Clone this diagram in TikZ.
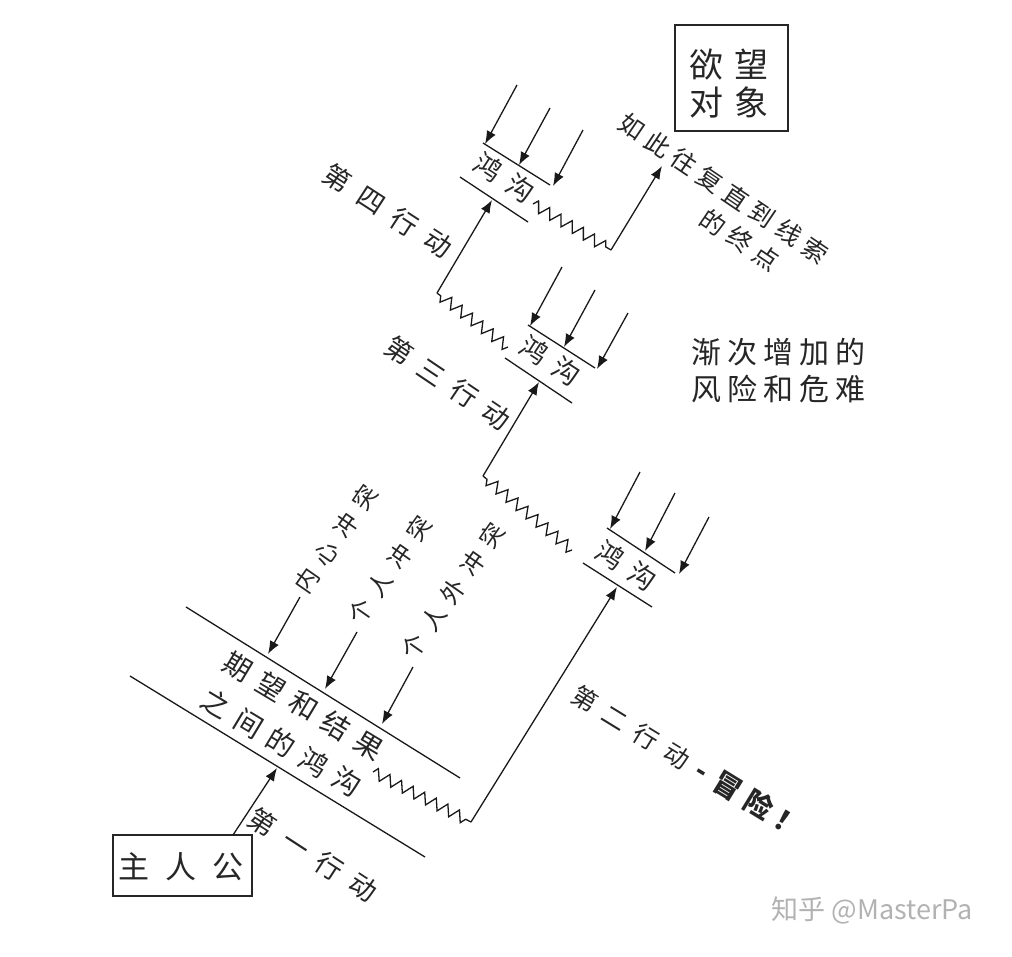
\documentclass[tikz,border=0pt]{standalone}
\usepackage{fontspec}
\setmainfont{Noto Sans CJK SC}
\usetikzlibrary{arrows.meta,decorations.pathmorphing}
\newlength\cgap
\newcommand\G{\hspace{\cgap}}
\tikzset{
  ln/.style={line width=1.3pt,draw=black!90},
  arr/.style={ln,-{Latex[length=13pt,width=10pt]}},
  zz/.style={ln,decorate,decoration={zigzag,segment length=13pt,amplitude=5.5pt}},
  lbl/.style={inner sep=0pt,text=black!85},
  box/.style={draw=black!85,line width=1.2pt,inner sep=0pt},
  fs/.style 2 args={font=\fontsize{#1}{#1}\selectfont\setlength\cgap{#2}},
}
\begin{document}
\begin{tikzpicture}[x=1pt,y=-1pt]
\useasboundingbox (0,0) rectangle (1012,956);

% boxes
\node[box,minimum width=139pt,minimum height=61pt] (hero) at (182.5,865.5) {};
\node[lbl,fs={31}{16pt}] (herotxt) at (181,867) {主\G{}人\G{}公};
\node[box,minimum width=113pt,minimum height=106pt] (goal) at (731.5,78) {};
\node[lbl,align=center,font=\fontsize{34}{38}\selectfont\setlength\cgap{11pt}] (goaltxt) at (729,84) {欲\G{}望\\对\G{}象};

% free texts
\node[lbl,align=center,font=\fontsize{30}{37}\selectfont\setlength\cgap{6pt}] (risk) at (778,371) {渐\G{}次\G{}增\G{}加\G{}的\\风\G{}险\G{}和\G{}危\G{}难};
\node[lbl,rotate=-34,fs={25}{6.5pt}] (loop1) at (723.5,188.5) {如\G{}此\G{}往\G{}复\G{}直\G{}到\G{}线\G{}索};
\node[lbl,rotate=-34,fs={25}{7pt}] (loop2) at (740,240) {的\G{}终\G{}点};

\node[lbl,rotate=-33,fs={27}{13pt}] (act4) at (388,211) {第\G{}四\G{}行\G{}动};
\node[lbl,rotate=-34,fs={27}{12pt}] (act3) at (448,383) {第\G{}三\G{}行\G{}动};
\node[lbl,rotate=-33,fs={27}{13pt}] (act1) at (313,855) {第\G{}一\G{}行\G{}动};
\node[lbl,rotate=-31.5,fs={25}{11pt}] (act2) at (688,761) {第\G{}二\G{}行\G{}动\hspace{12pt}{\bfseries\fontsize{28}{28}\selectfont -\hspace{10pt}冒\hspace{9pt}险\hspace{7pt}！}};

\node[lbl,rotate=-31,align=center,font=\fontsize{28}{43}\selectfont\setlength\cgap{10pt}] (gaptxt) at (292.5,724.5) {期\G{}望\G{}和\G{}结\G{}果\\之\G{}间\G{}的\G{}鸿\G{}沟};

\node[lbl,rotate=-33,fs={27}{11pt}] (g4txt) at (504.5,177.5) {鸿\G{}沟};
\node[lbl,rotate=-33,fs={27}{11pt}] (g3txt) at (550,361) {鸿\G{}沟};
\node[lbl,rotate=-33,fs={27}{11pt}] (g2txt) at (626,566) {鸿\G{}沟};

\node[lbl,rotate=55,fs={24}{10pt}] (inner) at (336,539) {内\G{}心\G{}冲\G{}突};
\node[lbl,rotate=55,fs={24}{10pt}] (pers) at (390,570) {个\G{}人\G{}冲\G{}突};
\node[lbl,rotate=55,fs={24}{10pt}] (extra) at (453,591) {个\G{}人\G{}外\G{}冲\G{}突};

\node[lbl,text=black!30,font=\fontsize{27}{27}\selectfont] (wm) at (872,910) {知乎 @MasterPa};

% gap lines
\coordinate (g1a) at (186,607); \coordinate (g1b) at (460,778);
\coordinate (g1c) at (130,676); \coordinate (g1d) at (425,857);
\draw[ln] (g1a) -- (g1b); \draw[ln] (g1c) -- (g1d);
\coordinate (g2a) at (607,528); \coordinate (g2b) at (675,573);
\coordinate (g2c) at (583,563); \coordinate (g2d) at (652,607);
\draw[ln] (g2a) -- (g2b); \draw[ln] (g2c) -- (g2d);
\coordinate (g3a) at (528,325); \coordinate (g3b) at (595,368);
\coordinate (g3c) at (505,358); \coordinate (g3d) at (572,403);
\draw[ln] (g3a) -- (g3b); \draw[ln] (g3c) -- (g3d);
\coordinate (g4a) at (483,143); \coordinate (g4b) at (550,185);
\coordinate (g4c) at (460,177); \coordinate (g4d) at (528,222);
\draw[ln] (g4a) -- (g4b); \draw[ln] (g4c) -- (g4d);

% first action
\coordinate (a1s) at (233,835); \coordinate (a1t) at (277,768);
\draw[arr] (a1s) -- (a1t);

% conflicts
\coordinate (c1s) at (300,597); \coordinate (c1t) at (268,654);
\coordinate (c2s) at (357,632); \coordinate (c2t) at (325,689);
\coordinate (c3s) at (413,667); \coordinate (c3t) at (382,724);
\draw[arr] (c1s) -- (c1t); \draw[arr] (c2s) -- (c2t); \draw[arr] (c3s) -- (c3t);

% zigzag 1 and second action
\coordinate (z1s) at (373,772); \coordinate (z1e) at (471,822);
\coordinate (a2t) at (617,587);
\draw[zz] (z1s) -- (z1e);
\draw[arr] (z1e) -- (a2t);

% gap 2 incoming
\coordinate (i21s) at (640,472); \coordinate (i21t) at (610,529);
\coordinate (i22s) at (675,493); \coordinate (i22t) at (645,551);
\coordinate (i23s) at (709,517); \coordinate (i23t) at (679,574);
\draw[arr] (i21s) -- (i21t); \draw[arr] (i22s) -- (i22t); \draw[arr] (i23s) -- (i23t);

% zigzag 2 and third action
\coordinate (z2s) at (572,550); \coordinate (z2e) at (483,476);
\coordinate (a3t) at (539,382);
\draw[zz] (z2s) -- (z2e);
\draw[arr] (z2e) -- (a3t);

% gap 3 incoming
\coordinate (i31s) at (562,267); \coordinate (i31t) at (530,326);
\coordinate (i32s) at (595,290); \coordinate (i32t) at (564,347);
\coordinate (i33s) at (628,313); \coordinate (i33t) at (597,369);
\draw[arr] (i31s) -- (i31t); \draw[arr] (i32s) -- (i32t); \draw[arr] (i33s) -- (i33t);

% zigzag 3 and fourth action
\coordinate (z3s) at (508,347); \coordinate (z3e) at (437,293);
\coordinate (a4t) at (492,200);
\draw[zz] (z3s) -- (z3e);
\draw[arr] (z3e) -- (a4t);

% gap 4 incoming
\coordinate (i41s) at (517,85); \coordinate (i41t) at (485,144);
\coordinate (i42s) at (550,108); \coordinate (i42t) at (519,165);
\coordinate (i43s) at (583,130); \coordinate (i43t) at (553,186);
\draw[arr] (i41s) -- (i41t); \draw[arr] (i42s) -- (i42t); \draw[arr] (i43s) -- (i43t);

% zigzag 4 and final arrow
\coordinate (z4s) at (533,204); \coordinate (z4e) at (611,250);
\coordinate (a5t) at (662,166);
\draw[zz] (z4s) -- (z4e);
\draw[arr] (z4e) -- (a5t);
\end{tikzpicture}
\end{document}
